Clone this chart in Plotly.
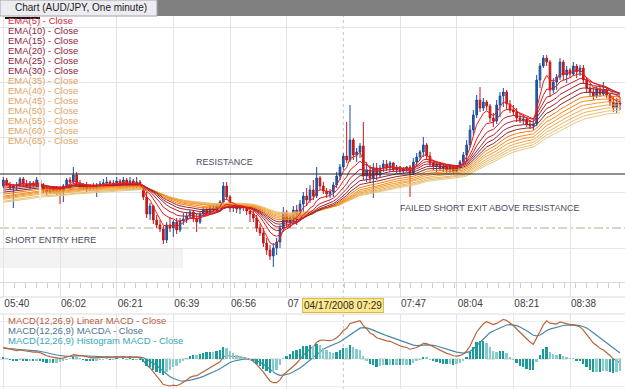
import numpy as np
import plotly.graph_objects as go

W, H = 625, 389

# ---------------- data (AUD/JPY, one-minute bars) ----------------
opens = [
    96.628, 96.640, 96.630, 96.624, 96.628, 96.630, 96.642, 96.632, 96.628, 96.634, 96.632, 96.640, 96.630, 96.620,
    96.616, 96.622, 96.618, 96.624, 96.620, 96.628, 96.640, 96.636, 96.650, 96.634, 96.626, 96.630, 96.622, 96.628,
    96.624, 96.630, 96.632, 96.634, 96.636, 96.628, 96.634, 96.638, 96.630, 96.640, 96.628, 96.638, 96.628, 96.636,
    96.626, 96.606, 96.572, 96.588, 96.560, 96.550, 96.542, 96.520, 96.550, 96.544, 96.556, 96.540, 96.558, 96.562,
    96.568, 96.576, 96.564, 96.556, 96.572, 96.580, 96.574, 96.584, 96.580, 96.588, 96.596, 96.628, 96.606, 96.584,
    96.590, 96.582, 96.588, 96.584, 96.578, 96.572, 96.564, 96.544, 96.534, 96.514, 96.500, 96.488, 96.504, 96.516,
    96.544, 96.576, 96.556, 96.564, 96.580, 96.570, 96.592, 96.608, 96.600, 96.620,
    96.608, 96.644, 96.628, 96.618, 96.612, 96.616, 96.630, 96.648, 96.666, 96.688, 96.680, 96.720, 96.690, 96.696,
    96.708, 96.648, 96.660, 96.644, 96.664, 96.650, 96.664, 96.672, 96.664, 96.674, 96.660, 96.666, 96.658, 96.662,
    96.666, 96.654, 96.676, 96.686, 96.696, 96.710, 96.688, 96.674, 96.668, 96.672, 96.664, 96.668, 96.660, 96.666,
    96.658, 96.666, 96.676, 96.690,
    96.710, 96.740, 96.770, 96.800, 96.784, 96.796, 96.788, 96.764, 96.758, 96.790, 96.808, 96.816, 96.792, 96.780,
    96.776, 96.764, 96.760, 96.762, 96.752, 96.748, 96.752, 96.840, 96.868, 96.884, 96.876, 96.820, 96.836, 96.846,
    96.876, 96.850, 96.860, 96.852, 96.868, 96.856, 96.864, 96.840, 96.824, 96.816, 96.808, 96.822, 96.812, 96.820,
    96.810, 96.796, 96.784, 96.794,
]
highs = [
    96.646, 96.644, 96.636, 96.632, 96.636, 96.646, 96.646, 96.640, 96.638, 96.638, 96.646, 96.644, 96.634, 96.628,
    96.626, 96.626, 96.628, 96.628, 96.632, 96.644, 96.646, 96.666, 96.656, 96.640, 96.634, 96.636, 96.632, 96.634,
    96.634, 96.638, 96.642, 96.646, 96.640, 96.640, 96.646, 96.642, 96.646, 96.644, 96.646, 96.642, 96.646, 96.640,
    96.630, 96.616, 96.594, 96.590, 96.570, 96.560, 96.548, 96.556, 96.566, 96.560, 96.564, 96.564, 96.574, 96.576,
    96.580, 96.580, 96.572, 96.576, 96.586, 96.586, 96.590, 96.590, 96.592, 96.600, 96.636, 96.636, 96.610, 96.594,
    96.594, 96.592, 96.592, 96.590, 96.586, 96.580, 96.570, 96.552, 96.544, 96.524, 96.510, 96.514, 96.524, 96.550,
    96.586, 96.580, 96.570, 96.588, 96.590, 96.600, 96.616, 96.624, 96.630, 96.640,
    96.666, 96.648, 96.636, 96.624, 96.622, 96.636, 96.656, 96.672, 96.694, 96.756, 96.790, 96.724, 96.704, 96.714,
    96.756, 96.676, 96.670, 96.674, 96.674, 96.670, 96.680, 96.680, 96.678, 96.676, 96.670, 96.668, 96.666, 96.668,
    96.670, 96.684, 96.694, 96.700, 96.726, 96.714, 96.696, 96.680, 96.676, 96.676, 96.672, 96.672, 96.670, 96.670,
    96.670, 96.680, 96.696, 96.720,
    96.750, 96.780, 96.810, 96.826, 96.804, 96.800, 96.792, 96.774, 96.800, 96.816, 96.824, 96.820, 96.800, 96.790,
    96.784, 96.772, 96.770, 96.766, 96.760, 96.756, 96.850, 96.874, 96.890, 96.890, 96.880, 96.844, 96.852, 96.884,
    96.880, 96.868, 96.864, 96.876, 96.872, 96.870, 96.870, 96.844, 96.832, 96.826, 96.828, 96.828, 96.836, 96.824,
    96.814, 96.808, 96.804, 96.806,
]
lows = [
    96.624, 96.628, 96.620, 96.584, 96.620, 96.626, 96.628, 96.624, 96.622, 96.626, 96.626, 96.628, 96.614, 96.610,
    96.612, 96.614, 96.610, 96.592, 96.596, 96.624, 96.630, 96.632, 96.628, 96.620, 96.620, 96.616, 96.618, 96.620,
    96.606, 96.624, 96.626, 96.628, 96.624, 96.624, 96.626, 96.626, 96.626, 96.624, 96.624, 96.622, 96.624, 96.620,
    96.600, 96.564, 96.560, 96.552, 96.544, 96.536, 96.512, 96.514, 96.536, 96.526, 96.532, 96.536, 96.550, 96.554,
    96.562, 96.556, 96.536, 96.552, 96.566, 96.568, 96.572, 96.576, 96.576, 96.584, 96.594, 96.600, 96.576, 96.576,
    96.574, 96.572, 96.578, 96.570, 96.556, 96.556, 96.536, 96.528, 96.506, 96.490, 96.480, 96.466, 96.490, 96.504,
    96.536, 96.544, 96.544, 96.552, 96.550, 96.564, 96.576, 96.588, 96.594, 96.600,
    96.604, 96.620, 96.612, 96.604, 96.604, 96.606, 96.624, 96.640, 96.660, 96.674, 96.676, 96.680, 96.676, 96.684,
    96.640, 96.636, 96.634, 96.604, 96.640, 96.644, 96.656, 96.658, 96.656, 96.656, 96.654, 96.652, 96.654, 96.656,
    96.606, 96.650, 96.668, 96.680, 96.686, 96.680, 96.668, 96.660, 96.656, 96.658, 96.656, 96.654, 96.654, 96.652,
    96.654, 96.662, 96.670, 96.676,
    96.704, 96.730, 96.764, 96.776, 96.778, 96.780, 96.756, 96.746, 96.752, 96.766, 96.786, 96.780, 96.774, 96.768,
    96.756, 96.754, 96.752, 96.746, 96.742, 96.740, 96.748, 96.824, 96.864, 96.868, 96.806, 96.814, 96.820, 96.840,
    96.840, 96.834, 96.844, 96.848, 96.844, 96.848, 96.832, 96.816, 96.808, 96.800, 96.804, 96.806, 96.808, 96.804,
    96.788, 96.776, 96.774, 96.780,
]
closes = [
    96.640, 96.630, 96.624, 96.628, 96.630, 96.642, 96.632, 96.628, 96.634, 96.632, 96.640, 96.630, 96.620, 96.616,
    96.622, 96.618, 96.624, 96.620, 96.628, 96.640, 96.636, 96.650, 96.634, 96.626, 96.630, 96.622, 96.628, 96.624,
    96.630, 96.632, 96.634, 96.636, 96.628, 96.634, 96.638, 96.630, 96.640, 96.628, 96.638, 96.628, 96.636, 96.626,
    96.606, 96.572, 96.588, 96.560, 96.550, 96.542, 96.520, 96.550, 96.544, 96.556, 96.540, 96.558, 96.562, 96.568,
    96.576, 96.564, 96.556, 96.572, 96.580, 96.574, 96.584, 96.580, 96.588, 96.596, 96.628, 96.606, 96.584, 96.590,
    96.582, 96.588, 96.584, 96.578, 96.572, 96.564, 96.544, 96.534, 96.514, 96.500, 96.488, 96.504, 96.516, 96.544,
    96.576, 96.556, 96.564, 96.580, 96.570, 96.592, 96.608, 96.600, 96.620, 96.608,
    96.644, 96.628, 96.618, 96.612, 96.616, 96.630, 96.648, 96.666, 96.688, 96.680, 96.720, 96.690, 96.696, 96.708,
    96.648, 96.660, 96.644, 96.664, 96.650, 96.664, 96.672, 96.664, 96.674, 96.660, 96.666, 96.658, 96.662, 96.666,
    96.654, 96.676, 96.686, 96.696, 96.710, 96.688, 96.674, 96.668, 96.672, 96.664, 96.668, 96.660, 96.666, 96.658,
    96.666, 96.676, 96.690, 96.710,
    96.740, 96.770, 96.800, 96.784, 96.796, 96.788, 96.764, 96.758, 96.790, 96.808, 96.816, 96.792, 96.780, 96.776,
    96.764, 96.760, 96.762, 96.752, 96.748, 96.752, 96.840, 96.868, 96.884, 96.876, 96.820, 96.836, 96.846, 96.876,
    96.850, 96.860, 96.852, 96.868, 96.856, 96.864, 96.840, 96.824, 96.816, 96.808, 96.822, 96.812, 96.820, 96.810,
    96.796, 96.784, 96.794, 96.792,
]

# time-axis labels (bar index -> label); the 07:xx label is mostly hidden by the cursor tag
tick_idx = [0, 17, 34, 51, 68, 85, 119, 136, 153, 170]
tick_text = ["05:40", "06:02", "06:21", "06:39", "06:56", "07", "07:47", "08:04", "08:21", "08:38"]
cursor_idx = 102
cursor_text = "04/17/2008 07:29"

# EMA ribbon
ema_periods = [5, 10, 15, 20, 25, 30, 35, 40, 45, 50, 55, 60, 65]
ema_seed = [96.634, 96.630, 96.626, 96.622, 96.618, 96.614, 96.610, 96.606, 96.604, 96.602, 96.600, 96.596, 96.594]
ema_colors = ["#ff1a10", "#e01a1a", "#c81c26", "#b0202e", "#9a2432", "#882838",
              "#ff7800", "#f88818", "#f29830", "#eea848", "#ecb460", "#eabe72", "#e8c884"]
ema_text_colors = ["#cc2a3a"] + ["#8e1c3c"] * 5 + ["#e0a464"] * 7

# MACD(12,26,9) starting state
macd_seed = {"ema12": 96.627, "ema26": 96.617, "signal": 0.009}

# reference levels
resistance = 96.652
support = 96.544

# ---------------- computations ----------------
idx = np.arange(len(closes))
c = np.array(closes)


def ema(values, n, seed):
    a = 2.0 / (n + 1)
    out, prev = [], seed
    for v in values:
        prev = prev + a * (v - prev)
        out.append(prev)
    return np.array(out)


ema12 = ema(c, 12, macd_seed["ema12"])
ema26 = ema(c, 26, macd_seed["ema26"])
macd = ema12 - ema26
signal = ema(macd, 9, macd_seed["signal"])
hist = macd - signal
hist_colors = ["#1b9c9c" if (i == 0 or abs(hist[i]) >= abs(hist[i - 1])) else "#86cccc" for i in range(len(hist))]

# ---------------- figure ----------------
fig = go.Figure()
fig.add_trace(go.Candlestick(
    x=idx, open=opens, high=highs, low=lows, close=closes,
    increasing=dict(line=dict(color="#1d4f9e", width=1), fillcolor="#2a5bab"),
    decreasing=dict(line=dict(color="#c01a1a", width=1), fillcolor="#c82020"),
    whiskerwidth=0, showlegend=False, hoverinfo="skip", xaxis="x", yaxis="y"))

for n, s, col in reversed(list(zip(ema_periods, ema_seed, ema_colors))):
    fig.add_trace(go.Scatter(x=idx, y=ema(c, n, s), mode="lines", line=dict(color=col, width=1),
                             showlegend=False, hoverinfo="skip", xaxis="x", yaxis="y"))

fig.add_trace(go.Bar(x=idx, y=hist, marker=dict(color=hist_colors, line=dict(width=0)), width=0.55,
                     showlegend=False, hoverinfo="skip", xaxis="x2", yaxis="y3"))
fig.add_trace(go.Scatter(x=idx, y=signal, mode="lines", line=dict(color="#4a88a8", width=1.2),
                         showlegend=False, hoverinfo="skip", xaxis="x2", yaxis="y2"))
fig.add_trace(go.Scatter(x=idx, y=macd, mode="lines", line=dict(color="#b8643a", width=1.2),
                         showlegend=False, hoverinfo="skip", xaxis="x2", yaxis="y2"))

vals = np.concatenate([macd, signal])
R = max(vals.max() / 0.56, -vals.min() / 0.36)
Rh = np.abs(hist).max() / 0.24


def py(p):  # pixel row -> paper y
    return 1 - p / H


def px(p):
    return p / W


xr = [-1, 186.5]
main_dom = [py(282), py(16)]
macd_dom = [0, py(314)]

fig.update_layout(
    width=W, height=H, margin=dict(l=0, r=0, t=0, b=0),
    paper_bgcolor="white", plot_bgcolor="white", showlegend=False, bargap=0,
    xaxis=dict(domain=[0, 1], range=xr, anchor="y", tickmode="array", tickvals=tick_idx, ticktext=tick_text,
               showgrid=True, gridcolor="#e4e4e4", gridwidth=1, zeroline=False,
               ticks="outside", ticklen=14, tickcolor="#e0e0e0", ticklabelposition="outside right",
               ticklabelstandoff=12,
               tickfont=dict(family="Liberation Sans", size=10, color="#404040"),
               showline=True, linecolor="#dcdcdc", rangeslider=dict(visible=False),
               minor=dict(dtick=3.3, ticks="outside", ticklen=5, tickcolor="#cfcfcf", showgrid=False)),
    yaxis=dict(domain=main_dom, range=[96.436, 96.968], tickmode="linear", tick0=96.504, dtick=0.1105,
               showgrid=True, gridcolor="#e4e4e4", showticklabels=False, zeroline=False, ticks=""),
    xaxis2=dict(domain=[0, 1], range=xr, anchor="y2", tickmode="array", tickvals=tick_idx,
                showgrid=True, gridcolor="#e4e4e4", showticklabels=False, ticks="", zeroline=False,
                showline=False),
    yaxis2=dict(domain=macd_dom, range=[-0.4 * R, 0.6 * R], tickmode="array",
                tickvals=[-0.36 * R, 0.5 * R], showgrid=True, gridcolor="#ececec",
                showticklabels=False, zeroline=False, ticks=""),
    yaxis3=dict(domain=macd_dom, range=[-0.4 * Rh, 0.6 * Rh], overlaying="y2", visible=False),
)

shapes = [
    # top bar + tab
    dict(type="rect", xref="paper", yref="paper", x0=0, x1=1, y0=py(16), y1=1,
         fillcolor="#808080", line=dict(width=0), layer="above"),
    dict(type="rect", xref="paper", yref="paper", x0=0, x1=px(157), y0=py(16), y1=1,
         fillcolor="#ededf1", line=dict(color="#a2a2a8", width=1), layer="above"),
    dict(type="line", xref="paper", yref="paper", x0=px(5), x1=px(40), y0=py(18), y1=py(18),
         line=dict(color="#111111", width=2), layer="above"),
    # light vertical streak
    dict(type="line", xref="paper", yref="paper", x0=px(40), x1=px(40), y0=py(200), y1=py(19),
         line=dict(color="#eeeeee", width=2), layer="above"),
    # resistance and dash-dot level
    dict(type="line", xref="paper", yref="y", x0=0, x1=1, y0=resistance, y1=resistance,
         line=dict(color="#222222", width=1.2), layer="above"),
    dict(type="line", xref="paper", yref="y", x0=0, x1=1, y0=support, y1=support,
         line=dict(color="#cfc7b2", width=1.5, dash="dashdot"), layer="between"),
    # cursor line
    dict(type="line", xref="x", yref="paper", x0=cursor_idx, x1=cursor_idx, y0=0, y1=main_dom[1],
         line=dict(color="#c4c4c4", width=1, dash="dot"), layer="between"),
    # grey input box
    dict(type="rect", xref="paper", yref="paper", x0=0, x1=px(183), y0=py(268), y1=py(248),
         fillcolor="#f3f3f3", line=dict(width=0), layer="between"),
    # time strip lines
    dict(type="line", xref="paper", yref="paper", x0=0, x1=1, y0=py(297), y1=py(297),
         line=dict(color="#d8d8d8", width=1), layer="above"),
    dict(type="line", xref="paper", yref="paper", x0=0, x1=1, y0=macd_dom[1], y1=macd_dom[1],
         line=dict(color="#dddddd", width=1), layer="above"),
    dict(type="line", xref="paper", yref="y3", x0=0, x1=1, y0=0, y1=0,
         line=dict(color="#d0c8b4", width=1, dash="dash"), layer="between"),
]
fig.update_layout(shapes=shapes)

ann = []
ann.append(dict(x=px(13), y=py(8), xref="paper", yref="paper", xanchor="left", yanchor="middle",
                text="Chart (AUD/JPY, One minute)", showarrow=False,
                font=dict(family="Liberation Sans", size=10, color="#1a1a1a")))
for k, (n, tc) in enumerate(zip(ema_periods, ema_text_colors)):
    ann.append(dict(x=px(6), y=py(20.7 + 10 * k), xref="paper", yref="paper", xanchor="left", yanchor="middle",
                    text=f"EMA({n}) - Close", showarrow=False,
                    font=dict(family="Liberation Sans", size=9.5, color=tc)))
macd_labels = [("MACD(12,26,9) Linear MACD - Close", "#b85a40"),
               ("MACD(12,26,9) MACDA - Close", "#4c7494"),
               ("MACD(12,26,9) Histogram MACD - Close", "#36a8b4")]
for k, (t, tc) in enumerate(macd_labels):
    ann.append(dict(x=px(6), y=py(320 + 10 * k), xref="paper", yref="paper", xanchor="left", yanchor="middle",
                    text=t, showarrow=False, font=dict(family="Liberation Sans", size=9.5, color=tc)))
notes = [("RESISTANCE", 194, 162), ("FAILED SHORT EXIT ABOVE RESISTANCE", 398, 208), ("SHORT ENTRY HERE", 3, 240)]
for t, xx, yy in notes:
    ann.append(dict(x=px(xx), y=py(yy), xref="paper", yref="paper", xanchor="left", yanchor="middle",
                    text=t, showarrow=False, font=dict(family="Liberation Sans", size=9, color="#4a4a62")))
ann.append(dict(x=cursor_idx, y=py(305), xref="x", yref="paper", xanchor="center", yanchor="middle",
                text=cursor_text, showarrow=False, bgcolor="#fde98c", bordercolor="#d9bc4a", borderwidth=1,
                borderpad=1, font=dict(family="Liberation Sans", size=10, color="#2a2a2a")))
fig.update_layout(annotations=ann)

fig.write_html("out.html")
